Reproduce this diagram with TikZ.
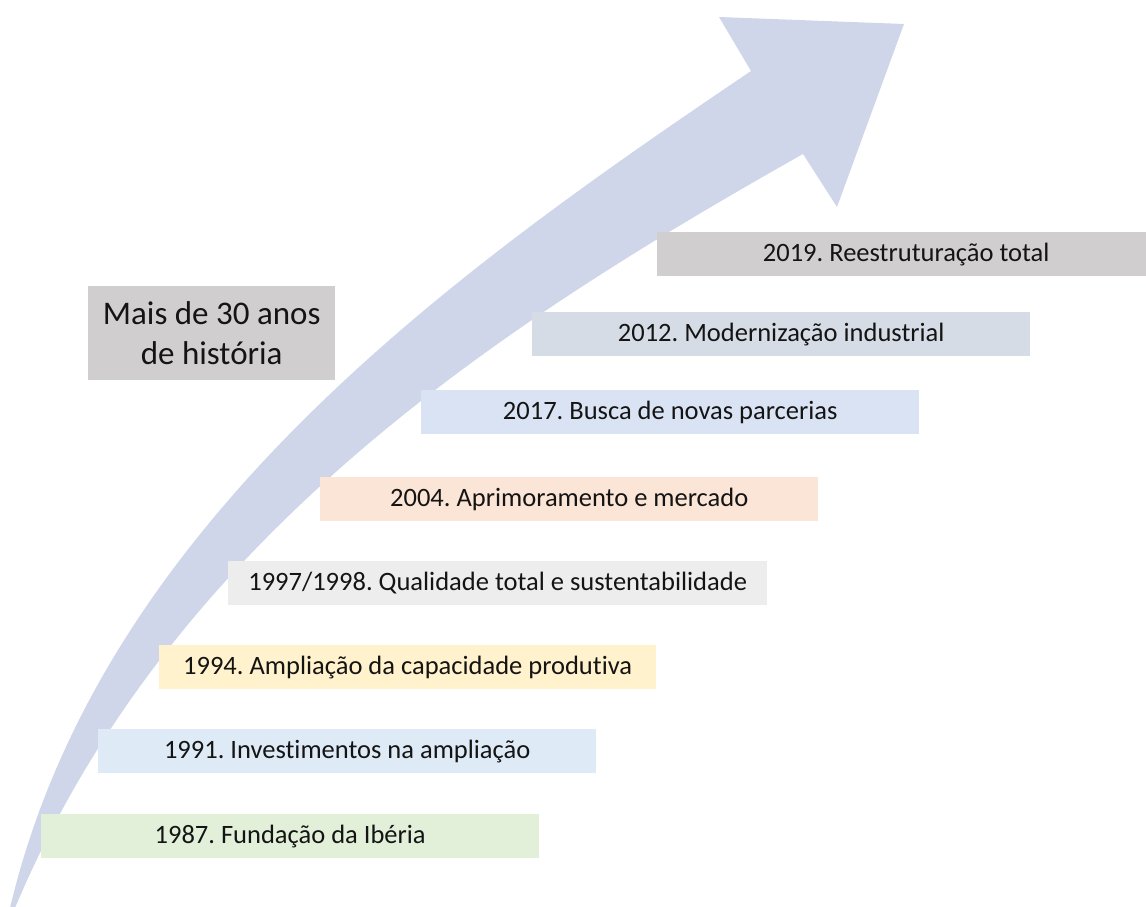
\documentclass[tikz,border=0pt]{standalone}
\usepackage{fontspec}
\setmainfont{Carlito}[Ligatures=NoCommon]
\frenchspacing
\definecolor{arrowc}{HTML}{D0D6EA}
\definecolor{cgrey}{HTML}{D0CECE}
\definecolor{ctwelve}{HTML}{D6DCE5}
\definecolor{cseventeen}{HTML}{DAE3F3}
\definecolor{cfour}{HTML}{FBE5D6}
\definecolor{cninetyseven}{HTML}{EDEDED}
\definecolor{cninetyfour}{HTML}{FFF2CC}
\definecolor{cninetyone}{HTML}{DEEBF7}
\definecolor{ceightyseven}{HTML}{E2F0D9}
\begin{document}
\begin{tikzpicture}[x=1pt,y=-1pt,
  ev/.style={fill=#1, minimum width=498pt, minimum height=44pt, inner sep=0pt,
    anchor=north west, font=\fontsize{26.5}{30}\selectfont, text=black!92}]
\useasboundingbox (0,0) rectangle (1146,907);
\clip (0,0) rectangle (1146,907);
% big curved arrow
\fill[arrowc] (10,908) .. controls (102,519) and (461,267) .. (751,71)
  -- (719,17) -- (904,24) -- (837,207) -- (803,154)
  .. controls (498,326) and (170,539) .. (15,908)
  -- cycle;
% boxes
\node[ev=cgrey] (n2019) at (657,232) {2019. Reestruturação total};
\node[ev=ctwelve] (n2012) at (532,312) {2012. Modernização industrial};
\node[ev=cseventeen] (n2017) at (421,390) {2017. Busca de novas parcerias};
\node[ev=cfour] (n2004) at (320,477) {2004. Aprimoramento e mercado};
\node[ev=cninetyseven, minimum width=539pt] (n1997) at (228,561) {1997/1998. Qualidade total e sustentabilidade};
\node[ev=cninetyfour, minimum width=497pt] (n1994) at (159,645) {1994. Ampliação da capacidade produtiva};
\node[ev=cninetyone] (n1991) at (98,729) {1991. Investimentos na ampliação};
\node[ev=ceightyseven] (n1987) at (41,814) {1987. Fundação da Ibéria};
\node[fill=cgrey, minimum width=247pt, minimum height=94pt, inner sep=0pt, anchor=north west,
  align=center, font=\fontsize{33}{40}\selectfont, text=black!92] (intro) at (88,286) {Mais de 30 anos\\de história};
\end{tikzpicture}
\end{document}
